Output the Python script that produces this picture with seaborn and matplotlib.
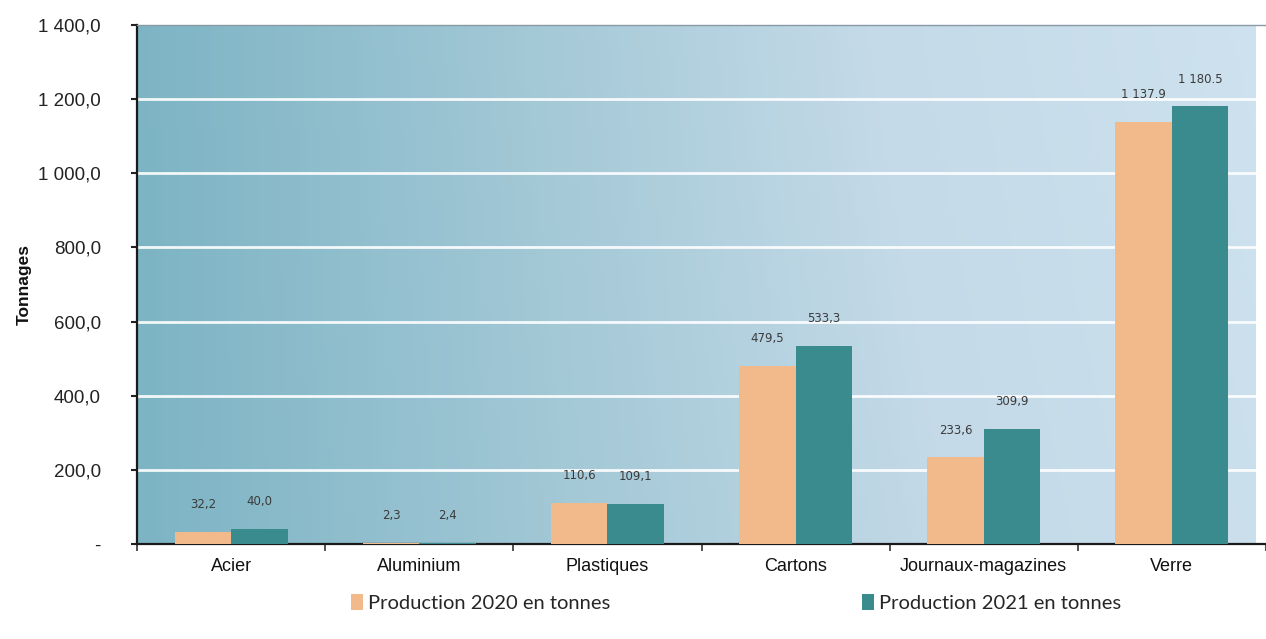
import numpy as np
import pandas as pd
import matplotlib
matplotlib.use("Agg")
import matplotlib.pyplot as plt
from matplotlib.colors import LinearSegmentedColormap
from matplotlib.patches import Patch
import seaborn as sns

categories = ["Acier", "Aluminium", "Plastiques", "Cartons", "Journaux-magazines", "Verre"]
prod_2020 = [32.2, 2.3, 110.6, 479.5, 233.6, 1137.9]
prod_2021 = [40.0, 2.4, 109.1, 533.3, 309.9, 1180.5]
labels_2020 = ["32,2", "2,3", "110,6", "479,5", "233,6", "1 137.9"]
labels_2021 = ["40,0", "2,4", "109,1", "533,3", "309,9", "1 180.5"]
series = ["Production 2020 en tonnes", "Production 2021 en tonnes"]
y_ticks = [0, 200, 400, 600, 800, 1000, 1200, 1400]
y_ticklabels = ["-", "200,0", "400,0", "600,0", "800,0", "1 000,0", "1 200,0", "1 400,0"]

colors = ["#F2B98A", "#3A8B8E"]

df = pd.DataFrame({
    "cat": categories * 2,
    "val": prod_2020 + prod_2021,
    "serie": [series[0]] * 6 + [series[1]] * 6,
})

sns.set_style("white")
plt.rcParams["font.family"] = ["Liberation Sans", "DejaVu Sans"]

fig = plt.figure(figsize=(12.66, 6.39), dpi=100)
W, H = 1266, 639
ax = fig.add_axes([137 / W, 95 / H, (W - 137) / W, 519 / H])

# gradient background, darker teal on the left, pale blue on the right
grad = np.linspace(0, 1, 256)[None, :] * np.ones((64, 1))
grad = grad + 0.12 * np.linspace(0, 1, 64)[:, None] * grad
bg = LinearSegmentedColormap.from_list("bg", ["#7DB4C4", "#A1C7D5", "#C4DAE8", "#CDE1EE"])
xmax = -0.5 + (W - 137) / 190
ax.imshow(grad, cmap=bg, extent=(-0.5, xmax, 0, 1400), aspect="auto",
          origin="lower", zorder=0, vmin=0, vmax=1.1)

sns.barplot(data=df, x="cat", y="val", hue="serie", palette=colors,
            width=0.6, ax=ax, legend=False, zorder=3, saturation=1,
            linewidth=0, edgecolor="none")

ax.set_xlim(-0.5, xmax)
ax.set_ylim(0, 1400)

for yv in y_ticks[1:-1]:
    ax.axhline(yv, color="white", lw=2, alpha=0.9, zorder=1)

# value labels
for cont, labs in zip(ax.containers, [labels_2020, labels_2021]):
    for bar, lab in zip(cont, labs):
        ax.annotate(lab, (bar.get_x() + bar.get_width() / 2, bar.get_height()),
                    xytext=(0, 15), textcoords="offset points", ha="center",
                    va="bottom", fontsize=8.5, color="#3b3b3b",
                    family="DejaVu Sans", zorder=4)

ax.set_yticks(y_ticks)
ax.set_yticklabels(y_ticklabels, fontsize=13.5, color="#222222")
ax.tick_params(axis="y", left=True, direction="out", length=4, width=1.5,
               color="#222222", pad=22)

ax.set_xticks(range(len(categories)))
ax.set_xticklabels(categories, fontsize=13, color="#111111")
ax.set_xticks(np.arange(-0.5, 6, 1), minor=True)
ax.tick_params(axis="x", which="major", bottom=False, length=0, pad=10)
ax.tick_params(axis="x", which="minor", bottom=True, direction="out", length=5,
               width=1.2, color="#333333")

ax.set_xlabel("")
ax.set_ylabel("Tonnages", fontsize=12.5, fontweight="heavy", color="#111111")
ax.yaxis.set_label_coords(-0.093, 0.5)

for s in ["left", "bottom"]:
    ax.spines[s].set_color("#1a1a1a")
    ax.spines[s].set_linewidth(1.6)
ax.spines["top"].set_color("#8a9aa4")
ax.spines["top"].set_linewidth(1)
ax.spines["right"].set_visible(False)

handles = [Patch(facecolor=c, edgecolor="none") for c in colors]
fig.legend(handles, series, loc="center", bbox_to_anchor=(736 / W, 1 - 603 / H),
           ncol=2, frameon=False, columnspacing=12.5, handlelength=0.6,
           handleheight=0.8, handletextpad=0.25,
           prop={"family": ["Lato", "DejaVu Sans"], "size": 14.5})

fig.savefig("out.png", dpi=100)
